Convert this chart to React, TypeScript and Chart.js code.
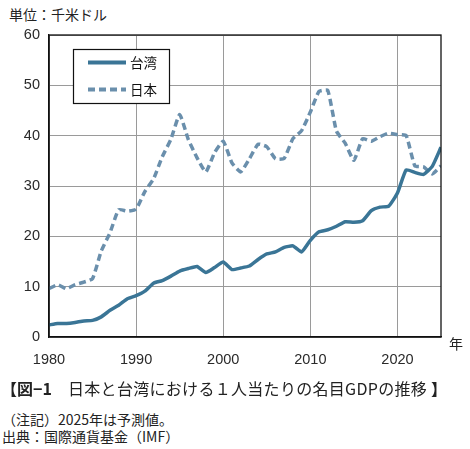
import React, { useEffect, useRef } from "react";
import { Chart, registerables } from "chart.js";

Chart.register(...registerables);

// Years on the horizontal axis
const years = [
  1980, 1981, 1982, 1983, 1984, 1985, 1986, 1987, 1988, 1989,
  1990, 1991, 1992, 1993, 1994, 1995, 1996, 1997, 1998, 1999,
  2000, 2001, 2002, 2003, 2004, 2005, 2006, 2007, 2008, 2009,
  2010, 2011, 2012, 2013, 2014, 2015, 2016, 2017, 2018, 2019,
  2020, 2021, 2022, 2023, 2024, 2025,
];

// Nominal GDP per capita, thousand US dollars
const taiwan = [
  2.4, 2.7, 2.7, 2.9, 3.2, 3.3, 4.0, 5.3, 6.3, 7.6,
  8.2, 9.1, 10.7, 11.2, 12.1, 13.1, 13.6, 14.0, 12.8, 13.8,
  14.9, 13.4, 13.7, 14.1, 15.4, 16.5, 16.9, 17.8, 18.1, 16.9,
  19.2, 20.9, 21.3, 22.0, 22.9, 22.8, 23.1, 25.1, 25.8, 26.0,
  28.6, 33.2, 32.7, 32.3, 33.9, 37.7,
];

const japan = [
  9.6, 10.4, 9.6, 10.4, 10.9, 11.6, 17.1, 20.7, 25.3, 25.0,
  25.4, 28.9, 31.4, 35.8, 39.3, 44.2, 39.2, 35.6, 32.8, 36.6,
  38.9, 34.6, 32.8, 35.4, 38.3, 37.8, 35.4, 35.5, 39.4, 41.0,
  44.7, 48.8, 49.0, 40.9, 38.5, 35.1, 39.4, 38.9, 39.8, 40.5,
  40.2, 40.0, 34.0, 33.8, 32.4, 34.0,
];

const seriesLabels = ["台湾", "日本"];
const xTicks = [1980, 1990, 2000, 2010, 2020];

const TAIWAN_COLOR = "#3a7596";
const JAPAN_COLOR = "#6a8fac";
const LATIN = "'Liberation Sans', Arial, sans-serif";
const CJK = "'Noto Sans CJK JP', sans-serif";

// Frame around the plot area plus the boxed legend in its upper-left corner
const framePlugin = {
  id: "frameAndLegend",
  afterDatasetsDraw(chart: any) {
    const { ctx, chartArea } = chart;
    ctx.save();
    ctx.strokeStyle = "#111";
    ctx.lineWidth = 1.3;
    ctx.strokeRect(
      chartArea.left,
      chartArea.top,
      chartArea.right - chartArea.left,
      chartArea.bottom - chartArea.top
    );

    const bx = chartArea.left + 24;
    const by = chartArea.top + 14;
    const bw = 96;
    const bh = 54;
    ctx.fillStyle = "#fff";
    ctx.fillRect(bx, by, bw, bh);
    ctx.lineWidth = 1.2;
    ctx.strokeRect(bx + 0.5, by + 0.5, bw, bh);

    chart.data.datasets.forEach((ds: any, i: number) => {
      const y = by + 13.5 + i * 27;
      ctx.beginPath();
      ctx.setLineDash(ds.borderDash || []);
      ctx.strokeStyle = ds.borderColor;
      ctx.lineWidth = 4;
      ctx.moveTo(bx + 15, y);
      ctx.lineTo(bx + 53, y);
      ctx.stroke();
      ctx.setLineDash([]);
      ctx.fillStyle = "#111";
      ctx.font = `13.5px ${CJK}`;
      ctx.textBaseline = "middle";
      ctx.textAlign = "left";
      ctx.fillText(ds.label, bx + 57, y + 0.5);
    });
    ctx.restore();
  },
};

export default function App() {
  const canvasRef = useRef<HTMLCanvasElement | null>(null);

  useEffect(() => {
    const canvas = canvasRef.current;
    if (!canvas) return;
    const chart = new Chart(canvas, {
      type: "line",
      data: {
        datasets: [
          {
            label: seriesLabels[0],
            data: years.map((yr, i) => ({ x: yr, y: taiwan[i] })),
            borderColor: TAIWAN_COLOR,
            borderWidth: 3.5,
            pointRadius: 0,
            tension: 0.15,
            fill: false,
          },
          {
            label: seriesLabels[1],
            data: years.map((yr, i) => ({ x: yr, y: japan[i] })),
            borderColor: JAPAN_COLOR,
            borderWidth: 3.5,
            borderDash: [7, 4],
            pointRadius: 0,
            tension: 0.15,
            fill: false,
          },
        ],
      },
      options: {
        animation: false,
        responsive: false,
        devicePixelRatio: 1,
        layout: { padding: { left: 0, top: 35, right: 29, bottom: 0 } },
        plugins: {
          legend: { display: false },
          tooltip: { enabled: false },
        },
        scales: {
          x: {
            type: "linear",
            min: 1980,
            max: 2025,
            afterBuildTicks: (scale: any) => {
              scale.ticks = xTicks.map((v) => ({ value: v }));
            },
            afterFit: (scale: any) => {
              scale.height = 43;
            },
            grid: { color: "#9a9a9a", lineWidth: 1, drawTicks: false },
            border: { color: "#111", width: 1.3 },
            ticks: {
              padding: 14,
              color: "#2a2a2a",
              font: { family: LATIN, size: 14.5 },
              maxRotation: 0,
              callback: (v: any) => String(v),
            },
          },
          y: {
            min: 0,
            max: 60,
            afterFit: (scale: any) => {
              scale.width = 49;
            },
            grid: { color: "#9a9a9a", lineWidth: 1, drawTicks: false },
            border: { color: "#111", width: 1.3 },
            ticks: {
              stepSize: 10,
              padding: 9,
              color: "#2a2a2a",
              font: { family: LATIN, size: 14.5 },
              callback: (v: any) => String(v),
            },
          },
        },
      },
      plugins: [framePlugin],
    });
    return () => chart.destroy();
  }, []);

  const caption: React.CSSProperties = {
    position: "absolute",
    top: 378,
    fontFamily: CJK,
    fontSize: 16,
    lineHeight: "20px",
    color: "#222",
    whiteSpace: "nowrap",
  };

  return (
    <div
      style={{
        position: "absolute",
        left: 0,
        top: 0,
        width: 470,
        height: 449,
        background: "#fff",
        overflow: "hidden",
      }}
    >
      <div
        style={{
          position: "absolute",
          left: 9,
          top: 5,
          fontFamily: CJK,
          fontSize: 14,
          lineHeight: "18px",
          color: "#222",
        }}
      >
        単位：千米ドル
      </div>
      <canvas
        ref={canvasRef}
        width={470}
        height={380}
        style={{ position: "absolute", left: 0, top: 0, width: 470, height: 380 }}
      />
      <div
        style={{
          position: "absolute",
          left: 449,
          top: 334,
          fontFamily: CJK,
          fontSize: 14,
          lineHeight: "18px",
          color: "#222",
        }}
      >
        年
      </div>
      <div style={{ ...caption, left: 1, fontWeight: 700 }}>{"【図−1"}</div>
      <div style={{ ...caption, left: 68, letterSpacing: 0.3 }}>
        {"日本と台湾における１人当たりの名目GDPの推移"}
      </div>
      <div style={{ ...caption, left: 431, fontWeight: 700 }}>{"】"}</div>
      <div
        style={{
          position: "absolute",
          left: 2,
          top: 411,
          fontFamily: CJK,
          fontSize: 14,
          lineHeight: "17px",
          color: "#222",
          whiteSpace: "nowrap",
        }}
      >
        {"（注記）2025年は予測値。"}
        <br />
        {"出典：国際通貨基金（IMF）"}
      </div>
    </div>
  );
}
